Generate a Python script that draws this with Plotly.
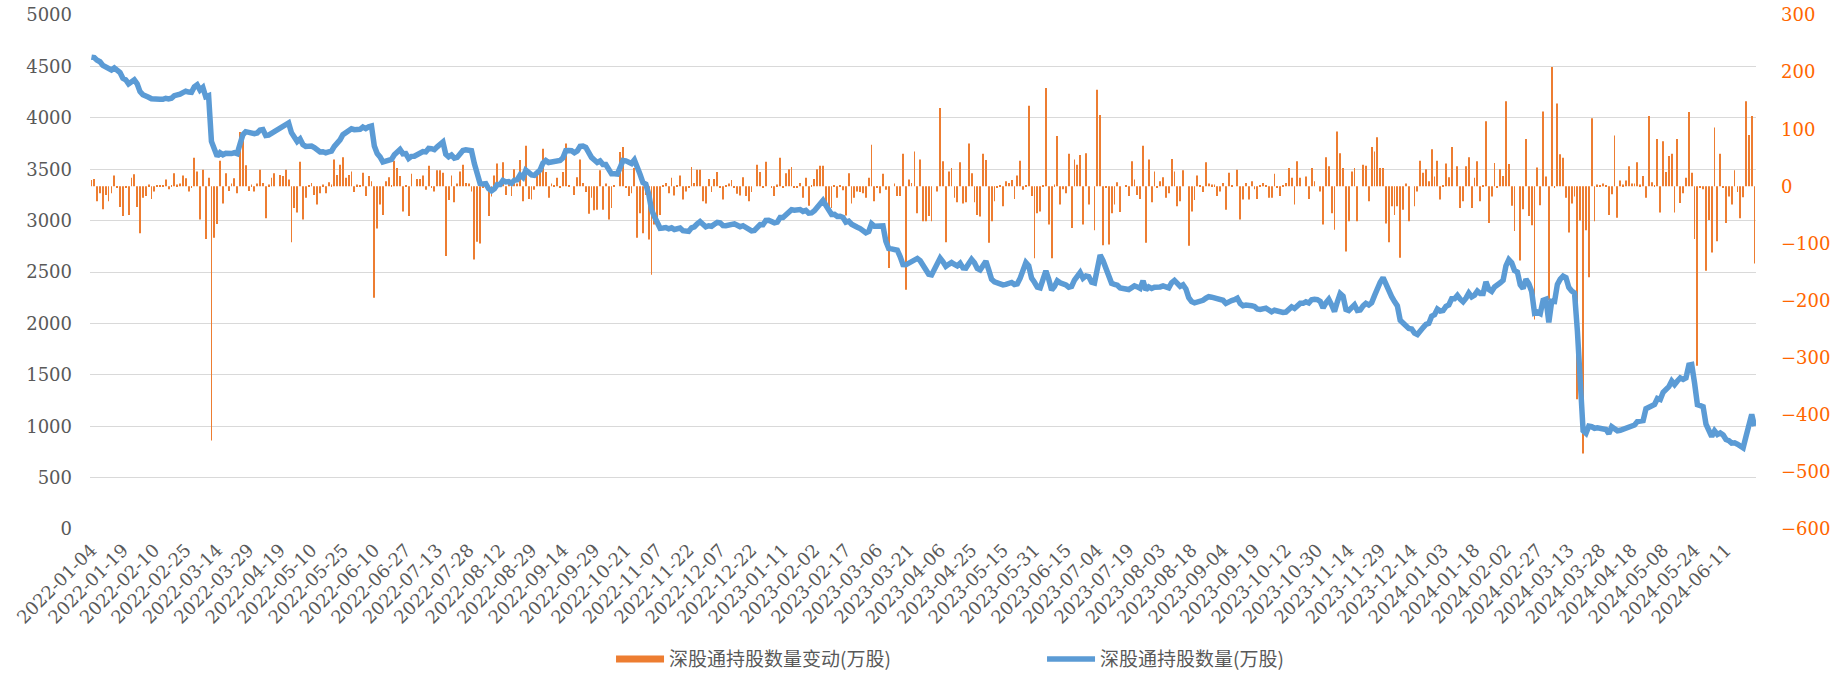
import pandas as pd
import plotly.graph_objects as go

# Non-trading weekdays for Shenzhen Connect (mainland + Hong Kong closures)
holidays = [
    "2022-01-31", "2022-02-01", "2022-02-02", "2022-02-03", "2022-02-04",
    "2022-04-04", "2022-04-05", "2022-04-15", "2022-04-18", "2022-05-02",
    "2022-05-03", "2022-05-04", "2022-05-09", "2022-06-03", "2022-07-01",
    "2022-09-12", "2022-10-03", "2022-10-04", "2022-10-05", "2022-10-06",
    "2022-10-07", "2022-12-26", "2022-12-27",
    "2023-01-02", "2023-01-23", "2023-01-24", "2023-01-25", "2023-01-26",
    "2023-01-27", "2023-04-05", "2023-04-07", "2023-04-10", "2023-05-01",
    "2023-05-02", "2023-05-03", "2023-05-26", "2023-06-22", "2023-06-23",
    "2023-09-29", "2023-10-02", "2023-10-03", "2023-10-04", "2023-10-05",
    "2023-10-06", "2023-10-23", "2023-12-25", "2023-12-26",
    "2024-01-01", "2024-02-09", "2024-02-12", "2024-02-13", "2024-02-14",
    "2024-02-15", "2024-02-16", "2024-03-29", "2024-04-01", "2024-04-04",
    "2024-04-05", "2024-05-01", "2024-05-02", "2024-05-03", "2024-05-15",
    "2024-06-10",
]
hol = set(holidays)
dates = [d.strftime("%Y-%m-%d") for d in pd.bdate_range("2022-01-04", "2024-06-25")
         if d.strftime("%Y-%m-%d") not in hol]

tick_labels = [
    "2022-01-04", "2022-01-19", "2022-02-10", "2022-02-25", "2022-03-14", "2022-03-29",
    "2022-04-19", "2022-05-10", "2022-05-25", "2022-06-10", "2022-06-27", "2022-07-13",
    "2022-07-28", "2022-08-12", "2022-08-29", "2022-09-14", "2022-09-29", "2022-10-21",
    "2022-11-07", "2022-11-22", "2022-12-07", "2022-12-22", "2023-01-11", "2023-02-02",
    "2023-02-17", "2023-03-06", "2023-03-21", "2023-04-06", "2023-04-25", "2023-05-15",
    "2023-05-31", "2023-06-15", "2023-07-04", "2023-07-19", "2023-08-03", "2023-08-18",
    "2023-09-04", "2023-09-19", "2023-10-12", "2023-10-30", "2023-11-14", "2023-11-29",
    "2023-12-14", "2024-01-03", "2024-01-18", "2024-02-02", "2024-02-27", "2024-03-13",
    "2024-03-28", "2024-04-18", "2024-05-08", "2024-05-24", "2024-06-11",
]

# 深股通持股数量(万股)
holding = [
    4590, 4585, 4560, 4545, 4510, 4495, 4475, 4465, 4485, 4470, 4440,
    4385, 4370, 4330, 4345, 4370, 4330, 4255, 4225, 4205, 4200, 4185,
    4180, 4182, 4180, 4180, 4190, 4183, 4190, 4215, 4220, 4230, 4245,
    4258, 4250, 4248, 4300, 4320, 4270, 4295, 4205, 4215, 3770, 3680,
    3625, 3660, 3640, 3655, 3650, 3652, 3660, 3650, 3745, 3835, 3865,
    3858, 3860, 3845, 3852, 3880, 3885, 3828, 3832, 3850, 3872, 3875,
    3895, 3912, 3940, 3950, 3855, 3815, 3770, 3795, 3740, 3722, 3724,
    3725, 3710, 3680, 3668, 3670, 3660, 3668, 3675, 3722, 3745, 3785,
    3835, 3850, 3868, 3893, 3884, 3886, 3888, 3910, 3895, 3912, 3920,
    3725, 3652, 3620, 3570, 3578, 3592, 3595, 3640, 3675, 3692, 3650,
    3652, 3605, 3625, 3626, 3640, 3655, 3672, 3668, 3702, 3699, 3690,
    3718, 3745, 3765, 3645, 3620, 3638, 3608, 3615, 3645, 3682, 3688,
    3690, 3680, 3555, 3458, 3360, 3357, 3360, 3310, 3290, 3310, 3350,
    3350, 3390, 3376, 3380, 3363, 3393, 3398, 3444, 3420, 3490, 3468,
    3445, 3440, 3460, 3492, 3560, 3585, 3565, 3570, 3572, 3588, 3585,
    3610, 3680, 3682, 3680, 3660, 3678, 3722, 3725, 3712, 3650, 3615,
    3590, 3565, 3580, 3545, 3545, 3490, 3455, 3455, 3452, 3515, 3584,
    3581, 3565, 3555, 3590, 3500, 3450, 3370, 3355, 3260, 3105, 3040,
    2975, 2925, 2928, 2932, 2920, 2930, 2914, 2915, 2928, 2902, 2893,
    2895, 2930, 2940, 2968, 2990, 2965, 2940, 2950, 2945, 2965, 2982,
    2978, 2952, 2950, 2958, 2972, 2968, 2955, 2940, 2950, 2930, 2905,
    2900, 2905, 2940, 2962, 2960, 3002, 3004, 2995, 2978, 2985, 3030,
    3030, 3052, 3080, 3105, 3100, 3098, 3108, 3090, 3100, 3072, 3075,
    3095, 3130, 3175, 3195, 3150, 3095, 3060, 3062, 3040, 3042, 3030,
    2985, 2995, 2965, 2945, 2935, 2922, 2905, 2882, 2895, 2970, 2945,
    2942, 2945, 2948, 2800, 2728, 2725, 2722, 2712, 2650, 2572, 2570,
    2585, 2600, 2620, 2632, 2610, 2560, 2515, 2478, 2472, 2530, 2600,
    2635, 2600, 2555, 2575, 2592, 2575, 2560, 2585, 2540, 2538, 2580,
    2623, 2590, 2535, 2520, 2560, 2605, 2520, 2430, 2405, 2390, 2378,
    2375, 2380, 2388, 2398, 2378, 2385, 2440, 2520, 2592, 2560, 2440,
    2400, 2352, 2345, 2430, 2512, 2430, 2325, 2360, 2415, 2395, 2388,
    2375, 2352, 2360, 2420, 2470, 2495, 2440, 2462, 2455, 2400, 2392,
    2560, 2665, 2610, 2540, 2450, 2390, 2380, 2372, 2345, 2345, 2335,
    2330, 2352, 2365, 2355, 2340, 2415, 2325, 2355, 2340, 2352, 2350,
    2355, 2365, 2355, 2345, 2395, 2418, 2390, 2360, 2375, 2335, 2250,
    2212, 2200, 2205, 2218, 2225, 2245, 2260, 2255, 2250, 2240, 2235,
    2225, 2195, 2215, 2222, 2230, 2245, 2195, 2172, 2178, 2168, 2172,
    2165, 2140, 2135, 2145, 2148, 2130, 2112, 2128, 2118, 2108, 2106,
    2110, 2135, 2160, 2145, 2180, 2195, 2195, 2210, 2198, 2230, 2235,
    2232, 2215, 2150, 2200, 2235, 2180, 2115, 2210, 2290, 2265, 2135,
    2125, 2150, 2180, 2125, 2130, 2170, 2195, 2180, 2200, 2270, 2350,
    2400, 2445, 2380, 2300, 2260, 2212, 2170, 2030, 2005, 1975, 1950,
    1945, 1905, 1892, 1935, 1960, 1990, 2000, 2070, 2085, 2140, 2120,
    2125, 2165, 2180, 2240, 2240, 2272, 2235, 2210, 2245, 2295, 2258,
    2275, 2315, 2290, 2290, 2405, 2330, 2312, 2355, 2370, 2395, 2420,
    2560, 2620, 2590, 2515, 2500, 2375, 2340, 2430, 2385, 2310, 2100,
    2110, 2095, 2225, 2235, 2010, 2215, 2212, 2380, 2430, 2460, 2445,
    2350, 2315, 2295, 1925, 1390, 955, 930, 1000, 995, 980, 985,
    982, 978, 968, 928, 995, 975, 955, 960, 968, 978, 985,
    1000, 1012, 1045, 1050, 1055, 1170, 1180, 1192, 1212, 1270, 1260,
    1330, 1355, 1385, 1440, 1405, 1440, 1470, 1455, 1470, 1595, 1600,
    1420, 1210, 1200, 1190, 1020, 960, 900, 955, 920, 935, 915,
    870, 860, 835, 838, 825, 800, 790, 900, 1000, 1115, 1000,
]

# 深股通持股数量变动(万股)
change = [
    11, 13, -26, -12, -40, -15, -26, -12, 19, -3, -36,
    -52, -3, -50, 15, 21, -36, -82, -20, -17, 3, -22,
    -9, 2, 1, 1, 12, -5, 2, 23, 3, 5, 19,
    14, -9, -3, 50, 26, -58, 29, -92, 15, -445, -90,
    -66, 45, -30, 23, -8, 5, 14, -12, 95, 92, 37,
    -8, 3, -9, 5, 29, 6, -56, 3, 15, 23, 0,
    20, 18, 29, 12, -98, -38, -46, 43, -58, -20, 2,
    6, -15, -32, -12, 3, -12, 7, 3, 47, 20, 38,
    51, 15, 20, 26, -10, 3, 2, 24, -17, 18, 9,
    -195, -74, -32, -50, 9, 16, 2, 45, 32, 18, -44,
    2, -52, 22, 0, 13, 13, 19, -6, 36, -3, -9,
    28, 28, 24, -122, -24, 19, -28, 5, 26, 38, 6,
    5, -9, -128, -97, -100, -3, 2, -52, -18, 19, 40,
    0, 42, -15, 5, -17, 30, 5, 46, -26, 71, -22,
    -23, -6, 19, 32, 66, 25, -20, 5, 2, 15, -3,
    25, 75, 2, 0, -15, 16, 47, 6, -10, -48, -20,
    -42, -41, 28, -41, 5, -58, -38, 2, 0, 60, 69,
    -3, -17, -12, 32, -90, -47, -82, -15, -93, -155, -67,
    -61, -50, 2, 6, -12, 15, -16, 2, 19, -23, -9,
    -3, 34, 6, 29, 29, -26, -30, 13, -10, 13, 25,
    -2, -23, 2, 5, 11, -3, -13, -16, 16, -17, -26,
    -10, 0, 38, 25, -3, 43, 0, -2, -17, 3, 50,
    -3, 23, 30, 34, -3, -2, 6, -20, 15, -34, 2,
    13, 30, 36, 36, -32, -38, -38, 2, -20, 2, -7,
    -51, 23, -30, -20, -9, -10, -12, -20, 15, 73, -26,
    -3, -12, 22, -6, -143, 0, 5, -17, -17, 57, -181,
    12, 6, 61, -47, 47, -61, -61, -52, -61, 0, -9,
    137, 44, -98, 26, 32, -20, -28, 42, -30, -28, 75,
    23, -28, -50, -53, 57, 46, -99, -61, -26, -3, 2,
    -35, 9, 6, 11, -22, 19, 45, -6, 2, 141, -17,
    -126, -47, -44, 2, 172, -67, -126, 3, 88, -32, -5,
    -12, 57, -73, 47, 38, 55, -67, 58, -32, 0, -77,
    169, 125, -103, -3, -102, -47, -32, 7, -45, 0, 2,
    -17, 44, 12, -15, -22, 71, -99, 47, -28, 26, -3,
    9, 16, -20, -12, 48, 26, -35, -26, 28, 0, -104,
    -44, -24, 19, 2, -10, 42, 5, 3, 3, -17, -9,
    6, -41, 24, 2, 0, 29, -58, -23, 6, -23, 9,
    -5, -22, 2, 6, 2, -20, -20, 22, -3, -17, 2,
    6, 32, 15, -32, 44, 15, 0, 17, -22, 32, 9,
    0, -9, -67, 51, 35, -47, -76, 96, 58, 32, -114,
    -61, 26, 32, -61, 0, 38, 36, -26, 69, 61, 86,
    32, 32, -65, -98, -35, -50, -35, -125, -41, 5, -61,
    0, -35, -9, 45, 24, 30, 9, 65, 17, 45, -23,
    2, 40, 16, 69, 0, 35, -38, -26, 35, 51, -38,
    15, 44, -26, 2, 114, -64, -18, 41, -2, 30, 18,
    149, 39, -34, -78, 0, -130, -40, 83, -52, -68, -233,
    33, -33, 131, 17, -199, 209, -2, 145, 56, 50, -20,
    -81, -30, -18, -373, -60, -468, -77, -159, 119, -61, 3,
    2, 5, 2, -50, -14, 89, -55, 10, 3, 10, 35,
    5, 5, 42, 3, 18, -20, 123, 7, 2, 83, -46,
    79, 25, 53, 57, -46, 83, -29, -12, 15, 130, 24,
    -92, -314, -3, -5, -148, -59, -116, 103, -96, 57, -3,
    -64, -18, -32, 28, -10, -56, -19, 149, 90, 123, -135,
]

name_change = "深股通持股数量变动(万股)"
name_hold = "深股通持股数量(万股)"

ORANGE = "#ED7D31"
BLUE = "#5B9BD5"
GREY = "#595959"
SERIF = "DejaVu Serif"

fig = go.Figure()
fig.add_trace(go.Bar(
    x=dates, y=change, name=name_change, yaxis="y",
    marker=dict(color=ORANGE, line=dict(width=0)), showlegend=False,
))
# legend entry for the bar series (line-style swatch as in the original)
fig.add_trace(go.Scatter(
    x=[None], y=[None], mode="lines", name=name_change,
    line=dict(color=ORANGE, width=7), yaxis="y",
))
fig.add_trace(go.Scatter(
    x=dates, y=holding, mode="lines", name=name_hold, yaxis="y2",
    line=dict(color=BLUE, width=5.5),
))

fig.update_layout(
    width=1841, height=676,
    margin=dict(l=90, r=85, t=15, b=147, autoexpand=False),
    paper_bgcolor="white", plot_bgcolor="white",
    bargap=0.7,
    showlegend=True,
    legend=dict(
        orientation="h", xref="container", x=0.3319, xanchor="left",
        yref="container", y=0.025, yanchor="middle",
        font=dict(family="Noto Sans CJK SC", size=19, color=GREY),
        entrywidth=368, entrywidthmode="pixels",
        itemwidth=48, borderwidth=0, tracegroupgap=0,
    ),
    xaxis=dict(
        type="category", range=[-0.5, len(dates) - 0.5], automargin=False,
        tickmode="array", tickvals=tick_labels, ticktext=tick_labels,
        tickangle=-45, showgrid=False, zeroline=False, showline=False,
        ticks="", ticklabelstandoff=6,
        tickfont=dict(family=SERIF, size=18, color=GREY),
    ),
    yaxis=dict(
        side="right", range=[-600, 300], dtick=100, tick0=0, automargin=False,
        showgrid=False, zeroline=False, showline=False, ticks="",
        ticklabelstandoff=24,
        tickfont=dict(family=SERIF, size=18, color="#FF6600"),
    ),
    yaxis2=dict(
        overlaying="y", side="left", range=[0, 5000], dtick=500, tick0=0,
        automargin=False,
        showgrid=True, gridcolor="#D9D9D9", gridwidth=1,
        zeroline=False, showline=False, ticks="",
        ticklabelstandoff=17,
        tickfont=dict(family=SERIF, size=18, color=GREY),
    ),
)

fig.write_html(
    "out.html",
    config={"displayModeBar": False},
    post_script="document.body.style.margin='0px';"
                "document.documentElement.style.overflow='hidden';",
)
